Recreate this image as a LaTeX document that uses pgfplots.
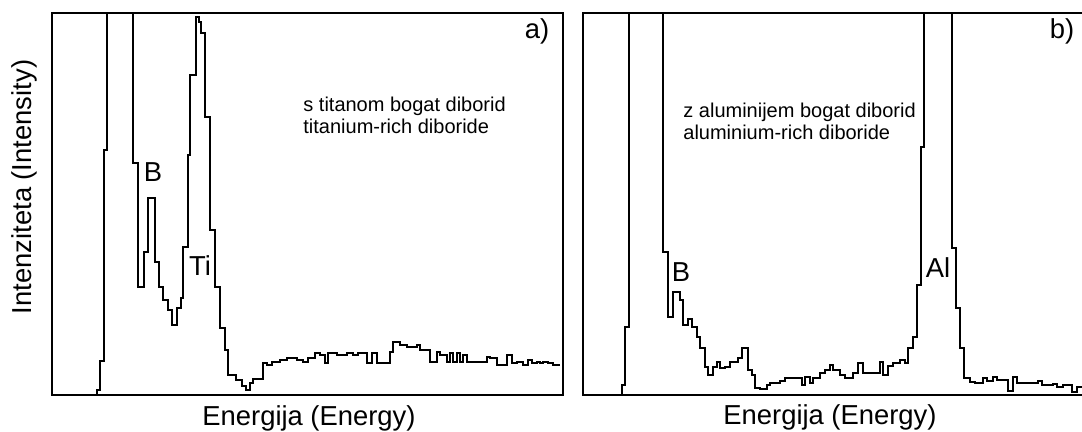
\documentclass[border=0pt]{standalone}
\usepackage{fontspec}
\setmainfont{Liberation Sans}
\usepackage{pgfplots}
\pgfplotsset{compat=1.18}
\begin{document}
\begin{tikzpicture}
\useasboundingbox (0,0) rectangle (541pt,216pt);
\pgfplotsset{
  every axis/.append style={
    scale only axis, height=191pt, ymin=0, ymax=382,
    xtick=\empty, ytick=\empty,
    axis line style={line width=1.3pt},
    clip mode=individual,
  },
  spec/.style={black, line width=0.85pt, const plot, mark=none},
}
\tikzset{
  big/.style={font=\fontsize{13.7}{16}\selectfont, inner sep=0pt},
  small/.style={font=\fontsize{10}{10.8}\selectfont, inner sep=0pt, align=left, anchor=north west},
}
% ---------------- panel a ----------------
\begin{axis}[at={(26pt,18.5pt)}, anchor=south west, width=255.5pt, xmin=52, xmax=563]
\addplot[spec] coordinates {
(52,0.5) (97,5) (100,34) (104,245) (107,430) (133,232) (138,108) (144,143)
(148,197) (155,133) (159,108) (163,95) (168,85) (172,70) (177,87) (181,97)
(183,148) (188,240) (190,320) (196,378) (199,373) (201,362) (205,278) (210,165)
(215,108) (220,67) (225,45) (228,20) (236,15) (242,9) (246,5) (250,12)
(253,16) (263,32) (267,30) (272,33) (280,35) (287,37) (297,35) (303,33)
(308,37) (315,42) (320,40) (325,32) (328,42) (337,40) (347,42) (353,40)
(358,42) (367,32) (372,42) (377,32) (390,43) (393,53) (400,50) (407,48)
(417,50) (420,45) (430,33) (437,43) (440,40) (447,33) (450,42) (453,33)
(457,42) (460,33) (463,40) (467,33) (487,38) (490,37) (497,30) (507,40)
(512,32) (517,33) (523,30) (528,35) (532,32) (537,33) (540,32) (543,33)
(548,32) (553,30) (560,30)
};
\node[big] at (axis cs:537,364) {a)};
\node[big] at (axis cs:153,222.5) {B};
\node[big] at (axis cs:200,129) {Ti};
\node[small] at (axis cs:303,298) {s titanom bogat diborid\\titanium-rich diboride};
\node[big, rotate=90] at (axis cs:24,208) {Intenziteta (Intensity)};
\node[big, anchor=base] at (axis cs:309,-31) {Energija (Energy)};
\end{axis}
% ---------------- panel b ----------------
\begin{axis}[at={(291.5pt,18.5pt)}, anchor=south west, width=251pt, xmin=583, xmax=1085]
\addplot[spec] coordinates {
(583,0.5) (622,10) (625,68) (629,430) (663,143) (668,78) (673,103) (680,95)
(683,70) (688,76) (692,68) (697,58) (700,47) (705,28) (708,20) (713,28)
(717,33) (720,27) (725,28) (730,33) (738,37) (742,47) (748,25) (752,20)
(755,7) (760,6) (767,10) (770,12) (780,14) (785,17) (802,10) (805,18)
(810,12) (813,17) (820,22) (825,25) (830,30) (833,25) (840,20) (845,17)
(853,22) (858,32) (863,22) (880,33) (883,20) (888,29) (893,32) (900,35)
(905,32) (908,47) (913,58) (917,110) (921,248) (924,430) (952,147) (956,87)
(960,47) (964,17) (970,13) (975,12) (983,17) (987,14) (993,18) (997,15)
(1008,4) (1013,18) (1017,12) (1038,14) (1042,10) (1053,11) (1057,8) (1063,10)
(1072,3) (1077,8) (1082,8)
};
\node[big] at (axis cs:1062,364) {b)};
\node[big] at (axis cs:681,123) {B};
\node[big] at (axis cs:938,127) {Al};
\node[small] at (axis cs:683,292) {z aluminijem bogat diborid\\aluminium-rich diboride};
\node[big, anchor=base] at (axis cs:830,-30) {Energija (Energy)};
\end{axis}
\end{tikzpicture}
\end{document}
